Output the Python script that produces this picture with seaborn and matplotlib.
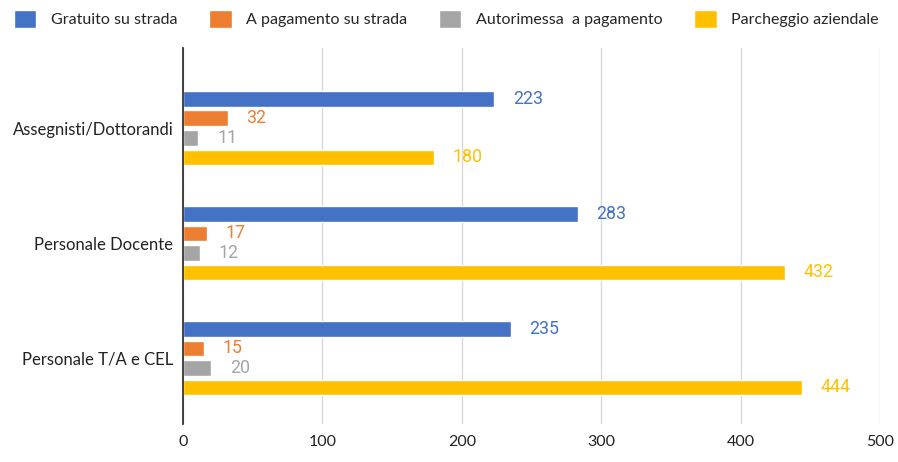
import pandas as pd
import seaborn as sns
import matplotlib.pyplot as plt

# Data
categories = ["Assegnisti/Dottorandi", "Personale Docente", "Personale T/A e CEL"]
series = ["Gratuito su strada", "A pagamento su strada",
          "Autorimessa  a pagamento", "Parcheggio aziendale"]
gratuito = [223, 283, 235]
a_pagamento = [32, 17, 15]
autorimessa = [11, 12, 20]
aziendale = [180, 432, 444]
x_ticks = [0, 100, 200, 300, 400, 500]

colors = ["#4472C4", "#ED7D31", "#A5A5A5", "#FFC000"]

rows = []
for name, vals in zip(series, [gratuito, a_pagamento, autorimessa, aziendale]):
    for cat, v in zip(categories, vals):
        rows.append({"categoria": cat, "serie": name, "valore": v})
df = pd.DataFrame(rows)

sns.set_style("white")
plt.rcParams["font.family"] = ["Lato", "DejaVu Sans"]

fig = plt.figure(figsize=(8.98, 4.62), dpi=100)
ax = fig.add_axes([0.2038, 0.082, 0.7762, 0.814])

sns.barplot(data=df, y="categoria", x="valore", hue="serie", order=categories,
            hue_order=series, palette=colors, orient="h", width=0.68, gap=0.2,
            saturation=1, ax=ax, legend=True)

# value labels
for container, col in zip(ax.containers, colors):
    for bar in container:
        w = bar.get_width()
        ax.annotate(f"{int(w)}", xy=(w, bar.get_y() + bar.get_height() / 2),
                    xytext=(13.5, 0), textcoords="offset points", va="center",
                    ha="left", color=col, fontsize=12.8, family="Roboto")

ax.set_xlim(0, 500)
ax.set_ylim(2.574, -0.696)
ax.set_xticks(x_ticks)
ax.set_xlabel("")
ax.set_ylabel("")
ax.grid(axis="x", color="#D9D9D9", linewidth=1)
ax.set_axisbelow(True)
for s in ["top", "right", "bottom"]:
    ax.spines[s].set_visible(False)
ax.spines["left"].set_color("#222222")
ax.spines["left"].set_linewidth(1.2)
ax.tick_params(axis="both", length=0, colors="#222222")
ax.tick_params(axis="y", pad=7, labelsize=12)
ax.tick_params(axis="x", pad=8, labelsize=11.5)

handles, labels = ax.get_legend_handles_labels()
ax.legend_.remove()
fig.legend(handles, labels, loc="upper left", bbox_to_anchor=(0.005, 1.0),
           ncol=4, frameon=False, fontsize=11.5, handlelength=1.4, handleheight=1.4,
           columnspacing=2.0, handletextpad=0.9, borderaxespad=0.2)

fig.savefig("out.png", dpi=100)
